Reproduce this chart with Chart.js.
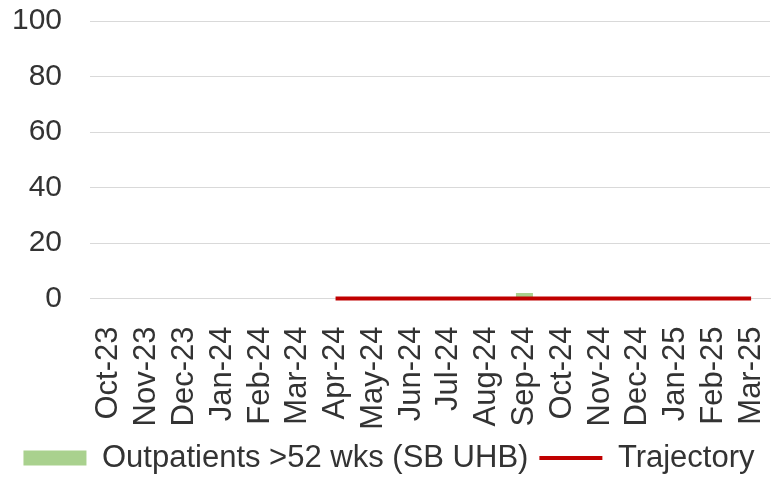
<!DOCTYPE html>
<html>
<head>
<meta charset="utf-8">
<script src="https://cdn.jsdelivr.net/npm/chart.js@4"></script>
<style>
  html, body { margin: 0; padding: 0; background: #fff; }
</style>
</head>
<body>
<canvas id="chart" width="776" height="477"></canvas>
<script>
const months = ['Oct-23', 'Nov-23', 'Dec-23', 'Jan-24', 'Feb-24', 'Mar-24', 'Apr-24', 'May-24', 'Jun-24',
    'Jul-24', 'Aug-24', 'Sep-24', 'Oct-24', 'Nov-24', 'Dec-24', 'Jan-25', 'Feb-25', 'Mar-25'];
const outpatients = [null, null, null, null, null, null, 0, 0, 0, 0, 0, 2, 0, 0, 0, 0, 0, 0];
const trajectory = [null, null, null, null, null, null, 0, 0, 0, 0, 0, 0, 0, 0, 0, 0, 0, 0];

const textColor = '#333333';
const fontFamily = '"Liberation Sans", Arial, sans-serif';

new Chart(document.getElementById('chart'), {
    type: 'bar',
    data: {
        labels: months,
        datasets: [
            {
                label: 'Outpatients >52 wks (SB UHB)',
                data: outpatients,
                backgroundColor: '#a9d18e',
                borderWidth: 0,
                barPercentage: 0.45,
                categoryPercentage: 1,
                pointStyle: 'rect',
                order: 1
            },
            {
                type: 'line',
                label: 'Trajectory',
                data: trajectory,
                borderColor: '#c00000',
                backgroundColor: '#c00000',
                borderWidth: 4,
                pointRadius: 0,
                pointStyle: 'line',
                clip: false,
                order: 0
            }
        ]
    },
    options: {
        responsive: false,
        animation: false,
        devicePixelRatio: 1,
        layout: {
            // negative bottom lets the legend sit lower, as in the original
            padding: { top: 21, right: 6, left: 8, bottom: -6.5 }
        },
        plugins: {
            tooltip: { enabled: false },
            legend: {
                position: 'bottom',
                labels: {
                    usePointStyle: true,
                    pointStyleWidth: 63,
                    boxHeight: 15,
                    padding: 11,
                    color: textColor,
                    font: { family: fontFamily, size: 31 },
                    sort: function (a, b) { return a.datasetIndex - b.datasetIndex; }
                }
            }
        },
        scales: {
            x: {
                offset: true,
                grid: { display: false },
                border: { color: '#d9d9d9', width: 1 },
                ticks: {
                    maxRotation: 90,
                    minRotation: 90,
                    autoSkip: false,
                    padding: 20,
                    color: textColor,
                    font: { family: fontFamily, size: 31 }
                },
                afterFit: function (scale) {
                    scale.height = 133;
                    scale.paddingLeft = 0;
                    scale.paddingRight = 0;
                }
            },
            y: {
                min: 0,
                max: 100,
                grid: { color: '#d9d9d9', drawTicks: false },
                border: { display: false },
                ticks: {
                    stepSize: 20,
                    padding: 28,
                    color: textColor,
                    font: { family: fontFamily, size: 30 }
                },
                afterFit: function (scale) {
                    scale.width = 82;
                    scale.paddingTop = 0;
                    scale.paddingBottom = 0;
                }
            }
        }
    }
});
</script>
</body>
</html>
